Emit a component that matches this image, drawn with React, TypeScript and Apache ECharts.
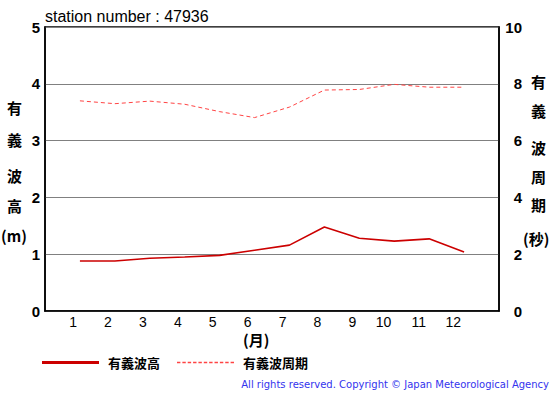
import React, { useEffect, useRef } from "react";
import * as echarts from "echarts";

const months = [1, 2, 3, 4, 5, 6, 7, 8, 9, 10, 11, 12];
const waveHeight = [0.88, 0.88, 0.93, 0.95, 0.98, 1.07, 1.16, 1.48, 1.28, 1.23, 1.27, 1.04];
const wavePeriod = [7.4, 7.3, 7.39, 7.28, 7.02, 6.81, 7.18, 7.78, 7.8, 7.98, 7.88, 7.88];
const seriesNames = ["有義波高", "有義波周期"];
const leftAxisName = ["有", "義", "波", "高", "(m)"];
const rightAxisName = ["有", "義", "波", "周", "期", "(秒)"];
const leftNameY = [110, 142, 178, 208, 238];
const rightNameY = [84, 113, 150, 179, 207, 241];

function dashedIcon() {
  let d = "path://";
  for (let x = 0; x < 57; x += 5.5) d += `M${x},0h3.5v1.5h-3.5Z`;
  return d;
}

export default function App() {
  const ref = useRef<HTMLDivElement>(null);
  useEffect(() => {
    const chart = echarts.init(ref.current!, null, { renderer: "svg" });
    const font = "'Liberation Sans', Arial, sans-serif";
    const nameStyle = { fontFamily: "'Noto Sans CJK JP', sans-serif", fontSize: 15, fontWeight: "bold" as const, fill: "#000" };
    const graphics: any[] = [];
    leftAxisName.forEach((t, i) =>
      graphics.push({ type: "text", left: t.length > 1 ? 1 : 7, top: leftNameY[i] - 10, style: { ...nameStyle, text: t } })
    );
    rightAxisName.forEach((t, i) =>
      graphics.push({ type: "text", left: t.length > 1 ? 523 : 531, top: rightNameY[i] - 10, style: { ...nameStyle, text: t } })
    );
    graphics.push({ type: "text", left: 45, top: 8, style: { text: "station number : 47936", fontFamily: font, fontSize: 16, fill: "#000" } });
    graphics.push({ type: "text", left: 243, top: 332, style: { ...nameStyle, text: "(月)", lineHeight: 15 } });
    graphics.push({
      type: "text", right: 6, top: 379,
      style: { text: "All rights reserved. Copyright © Japan Meteorological Agency", fontFamily: "'DejaVu Sans', sans-serif", fontSize: 10, fill: "#3333ee" },
    });
    chart.setOption({
      animation: false,
      grid: { left: 45, right: 56, top: 27, bottom: 84, show: true, borderColor: "#000", borderWidth: 1.5 },
      xAxis: {
        type: "value", min: 0, max: 13, interval: 1,
        axisLine: { show: true, lineStyle: { color: "#000", width: 1.5 } },
        axisTick: { show: false }, splitLine: { show: false },
        axisLabel: {
          formatter: (v: number) => (v >= 1 && v <= 12 ? String(v) : ""),
          align: "right", padding: [0, 3, 0, 0], margin: 4, lineHeight: 14,
          color: "#000", fontFamily: font, fontSize: 14,
        },
      },
      yAxis: [
        {
          type: "value", min: 0, max: 5, interval: 1,
          axisLine: { show: true, lineStyle: { color: "#000", width: 1.5 } },
          axisTick: { show: false },
          splitLine: { show: true, lineStyle: { color: "#808080", width: 1 } },
          axisLabel: { color: "#000", fontFamily: font, fontSize: 15, fontWeight: "bold", margin: 5 },
        },
        {
          type: "value", min: 0, max: 10, interval: 2, position: "right",
          axisLine: { show: true, lineStyle: { color: "#000", width: 1.5 } },
          axisTick: { show: false }, splitLine: { show: false },
          axisLabel: { color: "#000", fontFamily: font, fontSize: 15, fontWeight: "bold", margin: 23, align: "right" },
        },
      ],
      legend: {
        left: 42, top: 356, padding: 0, itemWidth: 57, itemHeight: 3, itemGap: 17,
        data: [
          { name: seriesNames[0], icon: "path://M0,0H57V3H0Z", itemStyle: { color: "#cc0000" } },
          { name: seriesNames[1], icon: dashedIcon(), itemStyle: { color: "#ff4444" } },
        ],
        textStyle: { fontFamily: "'Noto Sans CJK JP', sans-serif", fontSize: 13, fontWeight: "bold", color: "#000", padding: [0, 0, 0, 4] },
      },
      series: [
        {
          name: seriesNames[0], type: "line", yAxisIndex: 0, symbol: "none",
          data: months.map((m, i) => [m, waveHeight[i]]),
          lineStyle: { color: "#cc0000", width: 1.6 }, itemStyle: { color: "#cc0000" },
        },
        {
          name: seriesNames[1], type: "line", yAxisIndex: 1, symbol: "none",
          data: months.map((m, i) => [m, wavePeriod[i]]),
          lineStyle: { color: "#ff4444", width: 1, type: [4, 3] }, itemStyle: { color: "#ff4444" },
        },
      ],
      graphic: graphics,
    });
    return () => chart.dispose();
  }, []);
  return <div ref={ref} style={{ position: "fixed", left: 0, top: 0, width: 555, height: 395, background: "#fff" }} />;
}
